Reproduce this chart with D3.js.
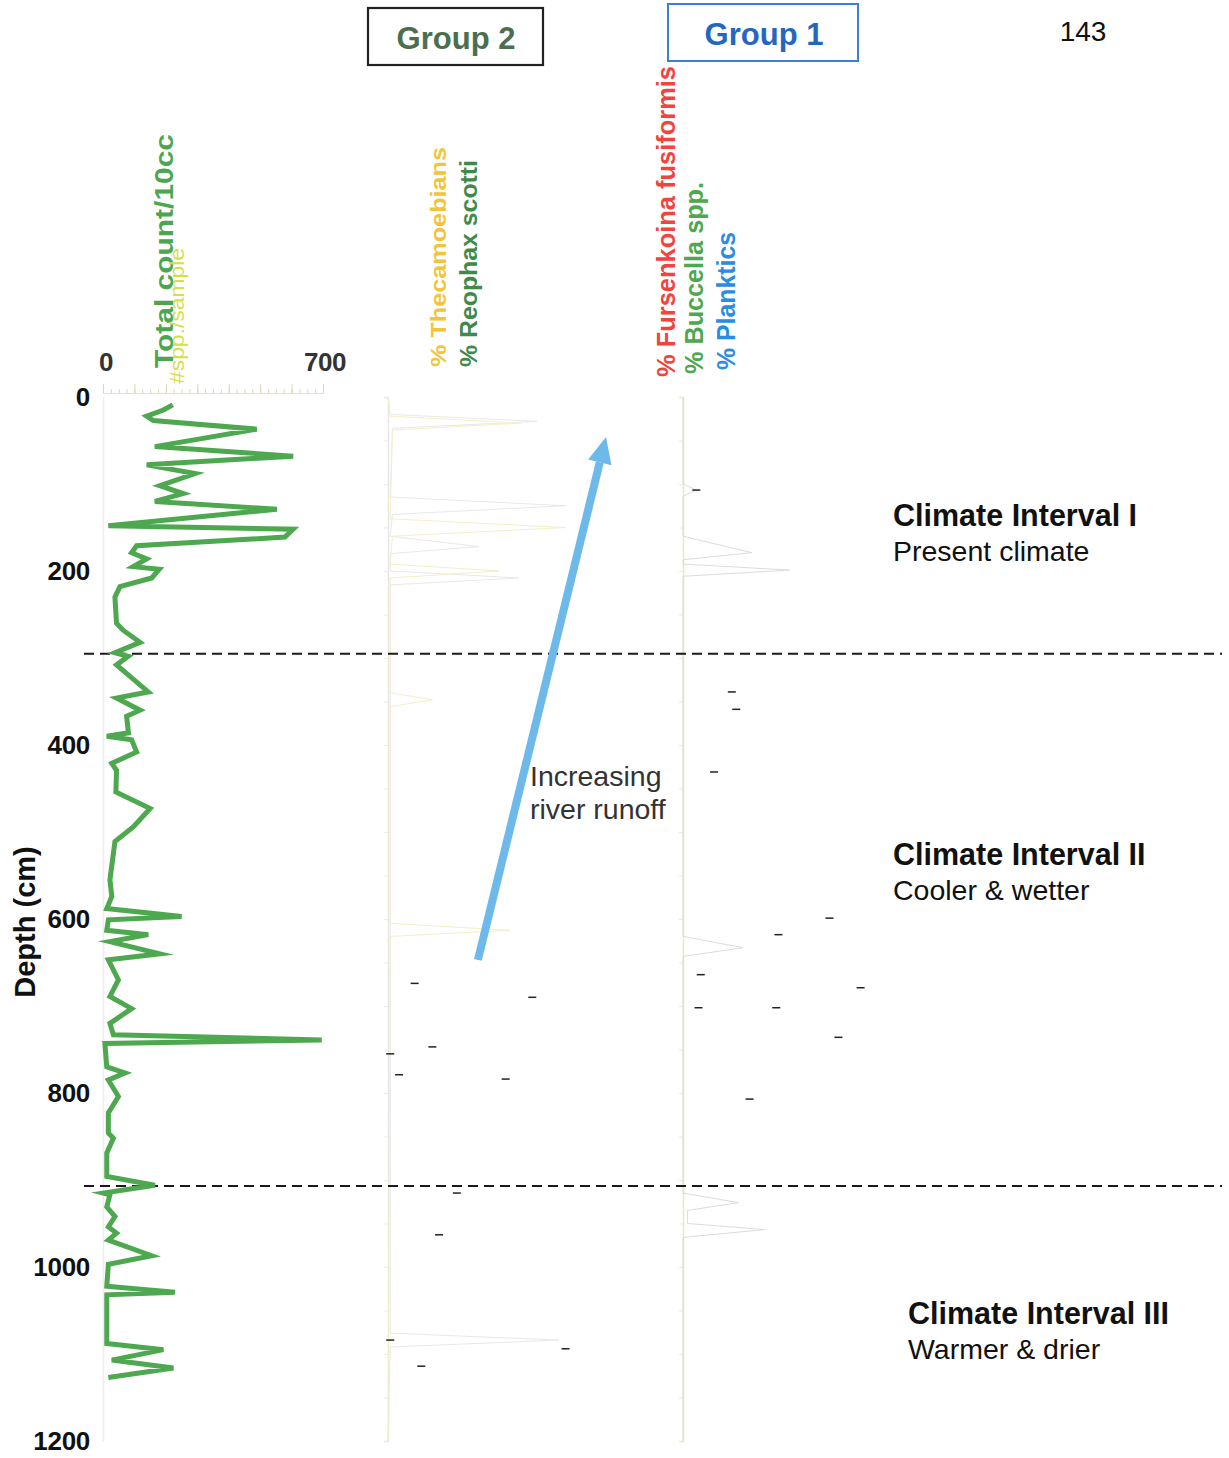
<!DOCTYPE html>
<html>
<head>
<meta charset="utf-8">
<script src="https://cdn.jsdelivr.net/npm/d3@7"></script>
<style>
  html, body { margin: 0; padding: 0; background: #fff; }
  svg { display: block; }
  text { font-family: "Liberation Sans", Arial, Helvetica, sans-serif; }
</style>
</head>
<body>
<svg id="chart" width="1229" height="1458"></svg>
<script>
// ---------- DATA ----------
const depthTicks = [0, 200, 400, 600, 800, 1000, 1200];
const countTickLabels = [0, 700];

// Total count/10cc  [depth cm, count]
const totalCountDepth = [9,15,22,27,37,57,68,78,88,102,111,120,129,148,152,161,171,179,186,195,198,208,218,230,260,268,282,294,298,308,339,346,360,367,386,390,394,408,421,429,454,473,494,511,555,574,588,597,601,613,618,626,640,647,670,689,703,720,733,739,743,770,777,785,804,823,846,852,869,896,906,915,917,931,942,954,961,969,987,997,1022,1029,1032,1088,1095,1107,1116,1127];
const totalCountValue = [222,192,139,160,489,165,605,139,293,181,255,165,553,17,605,579,107,91,139,96,179,155,54,38,43,64,118,38,80,43,144,43,118,75,81,12,91,107,28,43,41,150,97,38,22,28,12,250,17,12,144,22,181,17,49,22,91,22,33,696,6,12,70,17,49,17,17,33,12,12,165,1,22,12,38,17,43,17,155,17,12,229,12,12,192,28,224,17];

// Group 2 faint series (%)
const thecamoebiansDepth = [0,22,30,38,140,150,160,192,200,208,340,348,356,605,613,620,1200];
const thecamoebiansValue = [0,1,60,2,1,80,2,1,50,1,1,20,1,1,55,1,0];
const reophaxDepth = [0,20,28,36,115,125,135,160,172,180,200,208,216,1076,1084,1092,1200];
const reophaxValue = [0,1,67,2,1,80,2,1,41,1,1,59,1,1,77,1,0];
// Group 1 faint series (%)
const planktonDepth = [0,100,107,114,160,179,187,192,199,206,620,633,643,915,926,935,950,957,966,1200];
const planktonValue = [0,0,6,0,0,31,0,0,48,0,0,27,0,0,25,2,2,37,0,0];

// isolated small black marks (depth, %)
const group2MarkDepth = [674,690,747,755,779,784,915,963,1084,1094,1114];
const group2MarkValue = [12,65,20,1,5,53,31,23,1,80,15];
const group1MarkDepth = [107,339,359,431,599,618,664,679,702,702,736,807];
const group1MarkValue = [6,22,24,14,66,43,8,80,7,42,70,30];

// interval boundaries (depth cm)
const boundaries = [295, 907];
const intervals = [
  {title: "Climate Interval I", sub: "Present climate", depth: 140, dx: 0},
  {title: "Climate Interval II", sub: "Cooler & wetter", depth: 530, dx: 0},
  {title: "Climate Interval III", sub: "Warmer & drier", depth: 1058, dx: 15}
];

// ---------- DRAW ----------
const svg = d3.select("#chart");
const y = d3.scaleLinear().domain([0, 1200]).range([397, 1441]);
const x1 = d3.scaleLinear().domain([0, 700]).range([103, 323]);
const x2 = d3.scaleLinear().domain([0, 100]).range([388, 610]);
const x3 = d3.scaleLinear().domain([0, 100]).range([683, 905]);

// panel base axes (faint)
const yAxis = svg.append("g").attr("transform", "translate(103,0)")
  .call(d3.axisLeft(y).tickValues(depthTicks).tickSize(0).tickPadding(13).tickFormat(d3.format("d")));
yAxis.select(".domain").attr("stroke", "#ececec").attr("stroke-width", 1.5);
yAxis.selectAll("text").attr("font-size", 26).attr("font-weight", "bold")
  .attr("fill", "#111").attr("font-family", "'Liberation Sans', Arial, sans-serif")
  .attr("letter-spacing", -0.3);

const faintTicks = d3.range(0, 1201, 50);
const ax2 = svg.append("g").attr("transform", "translate(388,0)")
  .call(d3.axisLeft(y).tickValues(faintTicks).tickSize(4).tickFormat(""));
ax2.select(".domain").attr("stroke", "#e6e6e6").attr("stroke-width", 1.5);
ax2.selectAll(".tick line").attr("stroke", "#ebebeb");
const ax3 = svg.append("g").attr("transform", "translate(683,0)")
  .call(d3.axisLeft(y).tickValues(faintTicks).tickSize(4).tickFormat(""));
ax3.select(".domain").attr("stroke", "#ebe8bc").attr("stroke-width", 1.5);
ax3.selectAll(".tick line").attr("stroke", "#ebebeb");

// top count axis
const minor = d3.range(0, 701, 25);
const topAx = svg.append("g").attr("transform", "translate(0,393)")
  .call(d3.axisTop(x1).tickValues(minor).tickSize(4).tickFormat(""));
topAx.select(".domain").attr("stroke", "#e6e3c8");
topAx.selectAll(".tick line").attr("stroke", "#ddd9b8");
svg.append("g").attr("transform", "translate(0,393)")
  .call(d3.axisTop(x1).tickValues(d3.range(0, 701, 100)).tickSize(9).tickFormat(""))
  .call(g => { g.select(".domain").remove(); g.selectAll(".tick line").attr("stroke", "#dcd8b4"); });
svg.append("g").selectAll("text").data(countTickLabels).join("text")
  .attr("x", d => x1(d) + (d === 0 ? 3 : 2)).attr("y", 371)
  .attr("text-anchor", "middle").attr("font-size", 26).attr("font-weight", "bold")
  .attr("fill", "#333").attr("letter-spacing", -0.5).text(d => d);

// faint group 2 lines
const line2 = (vals) => d3.line().x((d, i) => x2(vals[i])).y(d => y(d));
svg.append("path").datum(reophaxDepth).attr("d", line2(reophaxValue))
  .attr("fill", "none").attr("stroke", "#e8e8e8").attr("stroke-width", 1);
svg.append("path").datum(thecamoebiansDepth).attr("d", line2(thecamoebiansValue))
  .attr("fill", "none").attr("stroke", "#f3efc8").attr("stroke-width", 1);
const line3 = (vals) => d3.line().x((d, i) => x3(vals[i])).y(d => y(d));
svg.append("path").datum(planktonDepth).attr("d", line3(planktonValue))
  .attr("fill", "none").attr("stroke", "#dcdcdc").attr("stroke-width", 1);

// small black marks
svg.append("g").selectAll("line").data(group2MarkDepth).join("line")
  .attr("x1", (d, i) => x2(group2MarkValue[i]) - 4).attr("x2", (d, i) => x2(group2MarkValue[i]) + 4)
  .attr("y1", d => y(d)).attr("y2", d => y(d)).attr("stroke", "#222").attr("stroke-width", 1.5);
svg.append("g").selectAll("line").data(group1MarkDepth).join("line")
  .attr("x1", (d, i) => x3(group1MarkValue[i]) - 4).attr("x2", (d, i) => x3(group1MarkValue[i]) + 4)
  .attr("y1", d => y(d)).attr("y2", d => y(d)).attr("stroke", "#222").attr("stroke-width", 1.5);

// dashed interval boundaries
svg.append("g").selectAll("line").data(boundaries).join("line")
  .attr("x1", 84).attr("x2", 1222).attr("y1", d => y(d)).attr("y2", d => y(d))
  .attr("stroke", "#1a1a1a").attr("stroke-width", 2).attr("stroke-dasharray", "10,6");

// total count line
svg.append("path").datum(totalCountDepth)
  .attr("d", d3.line().x((d, i) => x1(totalCountValue[i])).y(d => y(d)))
  .attr("fill", "none").attr("stroke", "#4ea84f").attr("stroke-width", 5)
  .attr("stroke-linejoin", "miter").attr("stroke-miterlimit", 6);

// blue arrow (river runoff) in group-2 data units
const arrowFrom = {v: 40.5, depth: 647};
const arrowTo = {v: 98.2, depth: 46};
const ax0 = x2(arrowFrom.v), ay0 = y(arrowFrom.depth), axe = x2(arrowTo.v), aye = y(arrowTo.depth);
const ang = Math.atan2(aye - ay0, axe - ax0);
const headLen = 26, headW = 12;
const bx = axe - headLen * Math.cos(ang), by = aye - headLen * Math.sin(ang);
svg.append("line").attr("x1", ax0).attr("y1", ay0).attr("x2", bx).attr("y2", by)
  .attr("stroke", "#6cb9ea").attr("stroke-width", 8);
svg.append("path").attr("d", d3.line()([
  [axe, aye],
  [bx + headW * Math.sin(ang), by - headW * Math.cos(ang)],
  [bx - headW * Math.sin(ang), by + headW * Math.cos(ang)]
])).attr("fill", "#6cb9ea");
svg.append("text").attr("x", 530).attr("y", 786).attr("font-size", 28.5).attr("fill", "#333").text("Increasing");
svg.append("text").attr("x", 530).attr("y", 819).attr("font-size", 28.5).attr("fill", "#333").text("river runoff");

// vertical labels
const vlabels = [
  {t: "Total count/10cc", x: 173, y: 368, c: "#4ca64f", s: 25, w: "bold", len: 234},
  {t: "#spp./sample", x: 184, y: 384, c: "#d6de4a", s: 20, w: "normal", len: 136},
  {t: "% Thecamoebians", x: 446, y: 367, c: "#f2c43c", s: 22.5, w: "bold", len: 220},
  {t: "% Reophax scotti", x: 477, y: 367, c: "#3f8a4a", s: 24.5, w: "bold", len: 207},
  {t: "% Fursenkoina fusiformis", x: 675, y: 377, c: "#f2433c", s: 25, w: "bold", len: 311},
  {t: "% Buccella spp.", x: 703, y: 374, c: "#4ea84f", s: 25, w: "bold", len: 192},
  {t: "% Planktics", x: 735, y: 370, c: "#2a8de3", s: 25, w: "bold", len: 138}
];
svg.append("g").selectAll("text").data(vlabels).join("text")
  .attr("transform", d => `translate(${d.x},${d.y}) rotate(-90)`)
  .attr("font-size", d => d.s).attr("font-weight", d => d.w).attr("fill", d => d.c)
  .attr("textLength", d => d.len).attr("lengthAdjust", "spacingAndGlyphs")
  .text(d => d.t);

// depth label
svg.append("text").attr("transform", "translate(35,922) rotate(-90)")
  .attr("text-anchor", "middle").attr("font-size", 29).attr("font-weight", "bold")
  .attr("fill", "#111").text("Depth (cm)");

// group boxes
svg.append("rect").attr("x", 368).attr("y", 8).attr("width", 175).attr("height", 57)
  .attr("fill", "none").attr("stroke", "#222").attr("stroke-width", 2.2);
svg.append("text").attr("x", 456).attr("y", 49).attr("text-anchor", "middle")
  .attr("font-size", 31).attr("font-weight", "bold").attr("fill", "#4a6e4e").text("Group 2");
svg.append("rect").attr("x", 668).attr("y", 4).attr("width", 190).attr("height", 57)
  .attr("fill", "none").attr("stroke", "#3b7fd8").attr("stroke-width", 2);
svg.append("text").attr("x", 764).attr("y", 45).attr("text-anchor", "middle")
  .attr("font-size", 31).attr("font-weight", "bold").attr("fill", "#2566c2").text("Group 1");

// page number
svg.append("text").attr("x", 1083).attr("y", 41).attr("text-anchor", "middle")
  .attr("font-family", "'Liberation Serif', 'Times New Roman', serif")
  .attr("font-size", 28).attr("fill", "#111").text("143");

// climate interval labels
const il = svg.append("g").selectAll("g").data(intervals).join("g");
il.append("text").attr("x", d => 893 + d.dx).attr("y", d => y(d.depth) + 7)
  .attr("font-size", 30.5).attr("font-weight", "bold").attr("fill", "#111").text(d => d.title);
il.append("text").attr("x", d => 893 + d.dx).attr("y", d => y(d.depth) + 42)
  .attr("font-size", 28.5).attr("fill", "#111").text(d => d.sub);
</script>
</body>
</html>
